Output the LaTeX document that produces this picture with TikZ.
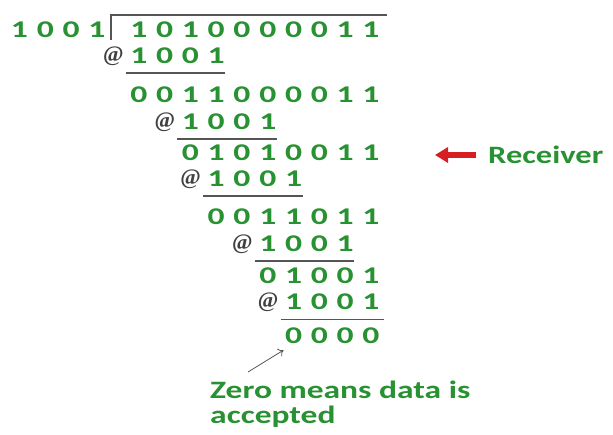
\documentclass[tikz,border=0pt]{standalone}
\usepackage{fontspec}
\setmainfont{Carlito}
\newfontfamily\atfont{Liberation Serif}
\usepackage{graphicx}
\usetikzlibrary{arrows.meta}
\usetikzlibrary{positioning}
\definecolor{bitgreen}{RGB}{40,145,50}
\definecolor{markred}{RGB}{215,30,35}
\definecolor{rulegray}{RGB}{85,85,85}
\makeatletter
\newcommand\bitrow[1]{\@tfor\b:=#1\do{\makebox[25.8pt]{\scalebox{1.4}[1]{\b}}}}
\makeatother

\begin{document}
\begin{tikzpicture}[x=1pt,y=-1pt,
  bits/.style={text=bitgreen,font=\bfseries\fontsize{24}{24}\selectfont,inner sep=0pt,anchor=east},
  atsign/.style={text=black!75,font=\atfont\bfseries\fontsize{22}{22}\selectfont,inner sep=0pt},
  divline/.style={rulegray,line width=1.3pt},
  note/.style={text=bitgreen,font=\bfseries\fontsize{25}{23}\selectfont,inner sep=0pt}]
  \useasboundingbox (0,0) rectangle (613,435);

  % divisor and dividend
  \node[bits] (dvsr) at (110,30) {\bitrow{1001}};
  \node[bits] (dvnd) at (384.1,30) {\bitrow{1010000011}};
  \draw[divline] (111,40) -- (111,15) -- (387,15);

  % subtraction steps
  \node[bits] (s1) at (229.3,56) {\bitrow{1001}};
  \node[atsign, left=2pt of s1] (at1) {@};
  \draw[divline, shorten >=4pt] ([yshift=-9pt]s1.south west) -- ([yshift=-9pt]s1.south east);
  \node[bits] (r1) at (384.1,95) {\bitrow{0011000011}};

  \node[bits] (s2) at (280.9,122) {\bitrow{1001}};
  \node[atsign, left=2pt of s2] (at2) {@};
  \draw[divline, shorten >=4pt] ([yshift=-9pt]s2.south west) -- ([yshift=-9pt]s2.south east);
  \node[bits] (r2) at (384.1,153) {\bitrow{01010011}};

  \node[bits] (s3) at (306.7,179) {\bitrow{1001}};
  \node[atsign, left=2pt of s3] (at3) {@};
  \draw[divline, shorten >=4pt] ([yshift=-9pt]s3.south west) -- ([yshift=-9pt]s3.south east);
  \node[bits] (r3) at (384.1,217) {\bitrow{0011011}};

  \node[bits] (s4) at (358.3,244) {\bitrow{1001}};
  \node[atsign, left=2pt of s4] (at4) {@};
  \draw[divline, shorten >=4pt] ([yshift=-9pt]s4.south west) -- ([yshift=-9pt]s4.south east);
  \node[bits] (r4) at (384.1,276) {\bitrow{01001}};

  \node[bits] (s5) at (384.1,302) {\bitrow{1001}};
  \node[atsign, left=2pt of s5] (at5) {@};
  \draw[divline] ([yshift=-9pt]s5.south west) -- ([yshift=-9pt]s5.south east);
  \node[bits] (r5) at (384.1,336) {\bitrow{0000}};

  % labels
  \node[note, anchor=west] (recv) at (488,155) {\scalebox{1.3}[1]{Receiver}};
  \node[note, anchor=north west] (zero) at (210,381)
    {\scalebox{1.34}[1]{\begin{tabular}{@{}l@{}}Zero means data is\\accepted\end{tabular}}};

  % arrows
  \coordinate (rtail) at ([xshift=-12pt]recv.west);
  \coordinate (rtip) at (435,155);
  \draw[markred, line width=6pt, -{Triangle[length=13pt,width=15pt]}] (rtail) -- (rtip);
  \coordinate (ztail) at ([xshift=38pt,yshift=9pt]zero.north west);
  \coordinate (ztip) at ([xshift=3pt,yshift=-6pt]r5.south west);
  \draw[rulegray, line width=0.8pt, -{To[length=5pt,width=9pt]}] (ztail) -- (ztip);
\end{tikzpicture}
\end{document}
